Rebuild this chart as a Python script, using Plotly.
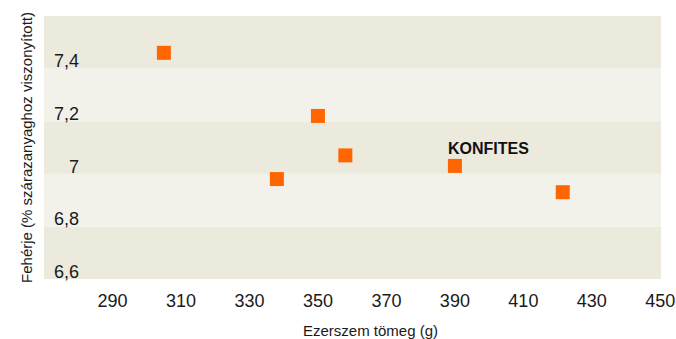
import plotly.graph_objects as go

# Thousand-kernel weight (g) vs. protein content (% of dry matter)
kernel_weight = [305, 350, 358, 338, 390, 421.5]
protein = [7.46, 7.22, 7.07, 6.98, 7.03, 6.93]
variety = ["", "", "", "", "KONFITES", ""]

y_ticks = [6.6, 6.8, 7.0, 7.2, 7.4]
y_tick_text = ["6,6", "6,8", "7", "7,2", "7,4"]
x_ticks = [290, 310, 330, 350, 370, 390, 410, 430, 450]
band_edges = [6.6, 6.8, 7.0, 7.2, 7.4, 7.6]

DARK = "#ece9dd"
LIGHT = "#f3f2ea"
ORANGE = "#ff6600"
FONT = "Liberation Sans, Arial, Helvetica, sans-serif"

fig = go.Figure()
fig.add_trace(go.Scatter(
    x=kernel_weight, y=protein, mode="markers",
    marker=dict(symbol="square", size=14, color=ORANGE, line=dict(width=0)),
    hoverinfo="x+y", showlegend=False,
))

# alternating horizontal bands, extending left behind the tick labels
shapes = []
for i in range(len(band_edges) - 1):
    shapes.append(dict(
        type="rect", xref="paper", yref="y", layer="below",
        x0=-0.062, x1=1, y0=band_edges[i], y1=band_edges[i + 1],
        fillcolor=DARK if i % 2 == 0 else LIGHT, line=dict(width=0),
    ))

annotations = []
for x, y, name in zip(kernel_weight, protein, variety):
    if name:
        annotations.append(dict(
            x=x, y=y, text="<b>%s</b>" % name, showarrow=False,
            xanchor="left", yanchor="bottom", xshift=-9, yshift=7,
            font=dict(family=FONT, size=16, color="#111111"),
        ))

fig.update_layout(
    width=676, height=339,
    margin=dict(l=80, r=15, t=16, b=60),
    paper_bgcolor="white", plot_bgcolor="rgba(0,0,0,0)",
    font=dict(family=FONT, color="#1a1a1a"),
    shapes=shapes, annotations=annotations,
    xaxis=dict(
        range=[280.5, 450.2], tickvals=x_ticks, showgrid=False, zeroline=False,
        showline=False, ticks="outside", ticklen=5, tickcolor="rgba(0,0,0,0)",
        tickfont=dict(size=18, family=FONT, color="#1a1a1a"),
        automargin=False,
        title=dict(text="Ezerszem tömeg (g)", font=dict(size=15, family=FONT), standoff=25),
    ),
    yaxis=dict(
        range=[6.6, 7.6], tickvals=y_ticks, ticktext=y_tick_text,
        showgrid=False, zeroline=False, showline=False, ticks="",
        ticklabelposition="outside top", ticklabelshift=5, automargin=False,
        tickfont=dict(size=18, family=FONT, color="#1a1a1a"),
        title=dict(text="Fehérje (% szárazanyaghoz viszonyított)",
                   font=dict(size=15, family=FONT), standoff=17),
    ),
)

fig.write_html("out.html")
